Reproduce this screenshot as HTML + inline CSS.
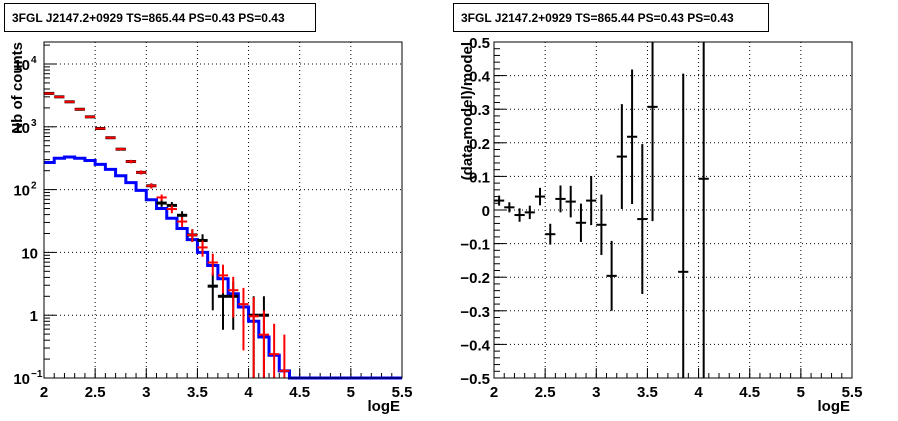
<!DOCTYPE html>
<html><head><meta charset="utf-8"><style>
body{margin:0;background:#fff;}
svg{display:block;font-family:"Liberation Sans",sans-serif;}
</style></head><body>
<svg id="c" width="898" height="421" xmlns="http://www.w3.org/2000/svg">
<rect width="898" height="421" fill="#fff"/>
<g><rect x="4.5" y="3.5" width="311" height="28" fill="#fff" stroke="#000"/><text x="12" y="22" font-size="12" font-weight="bold">3FGL J2147.2+0929 TS=865.44 PS=0.43 PS=0.43</text></g>
<g><rect x="453.5" y="3.5" width="315" height="28" fill="#fff" stroke="#000"/><text x="461" y="22" font-size="12" font-weight="bold">3FGL J2147.2+0929 TS=865.44 PS=0.43 PS=0.43</text></g>
<g id="L"></g>
<g id="R"></g>
</svg>
<script>
const binCenters=[2.05,2.15,2.25,2.35,2.45,2.55,2.65,2.75,2.85,2.95,3.05,3.15,3.25,3.35,3.45,3.55,3.65,3.75,3.85,3.95,4.05,4.15,4.25,4.35];
const dataCounts=[3400,3000,2500,1900,1440,940,670,440,280,188,115,61,56,39,19,15.5,2.9,2,2,0,1,1,0,0];
const modelCounts=[3400,3000,2500,1900,1440,940,670,440,280,188,115,75,49,31,19,12,6.9,4.3,2.5,1.5,0.96,0.49,0.24,0.13];
const compEdges=[2.0,2.1,2.2,2.3,2.4,2.5,2.6,2.7,2.8,2.9,3.0,3.1,3.2,3.3,3.4,3.5,3.6,3.7,3.8,3.9,4.0,4.1,4.2,4.3,4.4,5.5];
const compCounts=[270,315,330,315,290,252,210,166,129,97,69,50,35,24,16,10,6.2,3.8,2.2,1.35,0.8,0.45,0.23,0.13,0.1];
const resCenters=[2.05,2.15,2.25,2.35,2.45,2.55,2.65,2.75,2.85,2.95,3.05,3.15,3.25,3.35,3.45,3.55,3.85,4.05];
const resValues=[0.028,0.008,-0.015,-0.007,0.04,-0.072,0.033,0.025,-0.038,0.028,-0.044,-0.196,0.159,0.218,-0.027,0.307,-0.184,0.093];
const resErrors=[0.015,0.015,0.02,0.02,0.026,0.031,0.04,0.047,0.057,0.073,0.09,0.104,0.156,0.2,0.223,0.34,0.59,1.0];
const xTicks=["2","2.5","3","3.5","4","4.5","5","5.5"];
const resTicks=["-0.5","-0.4","-0.3","-0.2","-0.1","0","0.1","0.2","0.3","0.4","0.5"];
const NS="http://www.w3.org/2000/svg";
function el(p,t,a){const e=document.createElementNS(NS,t);for(const k in a)e.setAttribute(k,a[k]);p.appendChild(e);return e;}
const T=42,B=378;
const L=document.getElementById('L'),R=document.getElementById('R');
const lx=v=>44+(v-2)*(358/3.5);
const ly=v=>B-(Math.log10(v)+1)*62.8;
const rx=v=>494+(v-2)*(358/3.5);
const ry=v=>B-(v+0.5)*336;
function clampY(y){return Math.max(T,Math.min(B,y));}
function frame(g,x0,x1,name){const f=el(g,'rect',{x:x0,y:T,width:x1-x0,height:B-T,fill:'none',stroke:'#000','stroke-width':1});}
function xAxis(g,sx,x0,x1,label){
 for(let i=0;i<xTicks.length;i++){const v=parseFloat(xTicks[i]);const x=sx(v);
  if(i>0&&i<xTicks.length-1)el(g,'line',{x1:x,y1:T,x2:x,y2:B,stroke:'#000','stroke-dasharray':'1,3'});
  el(g,'line',{x1:x,y1:B,x2:x,y2:B-10,stroke:'#000'});
  const t=el(g,'text',{x:x,y:B+19,'font-size':15,'text-anchor':'middle','font-weight':'bold'});t.textContent=xTicks[i];
  }
 for(let v=2;v<5.5;v+=0.1){el(g,'line',{x1:sx(v),y1:B,x2:sx(v),y2:B-5,stroke:'#000'});}
 const t=el(g,'text',{x:x1-2,y:B+33,'font-size':15,'text-anchor':'end','font-weight':'bold'});t.textContent=label;
 
}
const decades=[[-1,"10","−1"],[0,"1",""],[1,"10",""],[2,"10","2"],[3,"10","3"],[4,"10","4"]];
decades.forEach(d=>{const y=ly(Math.pow(10,d[0]));
 if(d[0]>-1)el(L,'line',{x1:44,y1:y,x2:402,y2:y,stroke:'#000','stroke-dasharray':'1,3'});
 el(L,'line',{x1:44,y1:y,x2:56,y2:y,stroke:'#000'});
 const t=el(L,'text',{x:d[2]?30:38,y:y+6,'font-size':15,'text-anchor':'end','font-weight':'bold'});t.textContent=d[1];
 
 if(d[2]){const s=el(L,'text',{x:31,y:y-1,'font-size':10,'font-weight':'bold'});s.textContent=d[2];}
 for(let m=2;m<10;m++){const yy=ly(m*Math.pow(10,d[0]));if(yy>T)el(L,'line',{x1:44,y1:yy,x2:50,y2:yy,stroke:'#000'});}
});
xAxis(L,lx,44,402,'logE');
{const t=el(L,'text',{transform:'translate(22,42) rotate(-90)','font-size':15,'text-anchor':'end','font-weight':'bold'});t.textContent='Nb of counts';}
let d='';for(let i=0;i<compCounts.length;i++){const y=ly(compCounts[i]);d+=(i?'L':'M')+lx(compEdges[i])+','+y+'L'+lx(compEdges[i+1])+','+y;}
{const p=el(L,'path',{d:d,fill:'none',stroke:'#0000ff','stroke-width':3});}
function pts(vals,color,name,w){for(let i=0;i<binCenters.length;i++){const v=vals[i];if(!(v>0))continue;const e=Math.sqrt(v);
 const x=lx(binCenters[i]),y=ly(v);const yt=clampY(ly(v+e));const yb=v-e>0?clampY(ly(v-e)):B;
 const g=el(L,'g',{});
 el(g,'line',{x1:x,y1:yt,x2:x,y2:yb,stroke:color,'stroke-width':2});
 el(g,'line',{x1:lx(binCenters[i]-0.05),y1:y,x2:lx(binCenters[i]+0.05),y2:y,stroke:color,'stroke-width':w});}}
pts(dataCounts,'#000','data-point',3);
pts(modelCounts,'#ff0000','model-point',2);
frame(L,44,402,'left-plot-frame');
for(let i=0;i<resTicks.length;i++){const v=parseFloat(resTicks[i]);const y=ry(v);
 if(i>0&&i<resTicks.length-1)el(R,'line',{x1:494,y1:y,x2:852,y2:y,stroke:'#000','stroke-dasharray':'1,3'});
 el(R,'line',{x1:494,y1:y,x2:506,y2:y,stroke:'#000'});
 const t=el(R,'text',{x:490,y:y+6,'font-size':15,'text-anchor':'end','font-weight':'bold'});t.textContent=resTicks[i].replace('-','−');
 }
for(let v=-0.5;v<0.5;v+=0.02)el(R,'line',{x1:494,y1:ry(v),x2:500,y2:ry(v),stroke:'#000'});
xAxis(R,rx,494,852,'logE');
{const t=el(R,'text',{transform:'translate(472,42) rotate(-90)','font-size':15,'text-anchor':'end','font-weight':'bold'});t.textContent='(data-model)/model';}
for(let i=0;i<resCenters.length;i++){const x=rx(resCenters[i]),v=resValues[i],e=resErrors[i];
 const g=el(R,'g',{});
 el(g,'line',{x1:x,y1:clampY(ry(v+e)),x2:x,y2:clampY(ry(v-e)),stroke:'#000','stroke-width':2});
 el(g,'line',{x1:rx(resCenters[i]-0.05),y1:ry(v),x2:rx(resCenters[i]+0.05),y2:ry(v),stroke:'#000','stroke-width':2});}
frame(R,494,852,'right-plot-frame');
</script>
</body></html>
